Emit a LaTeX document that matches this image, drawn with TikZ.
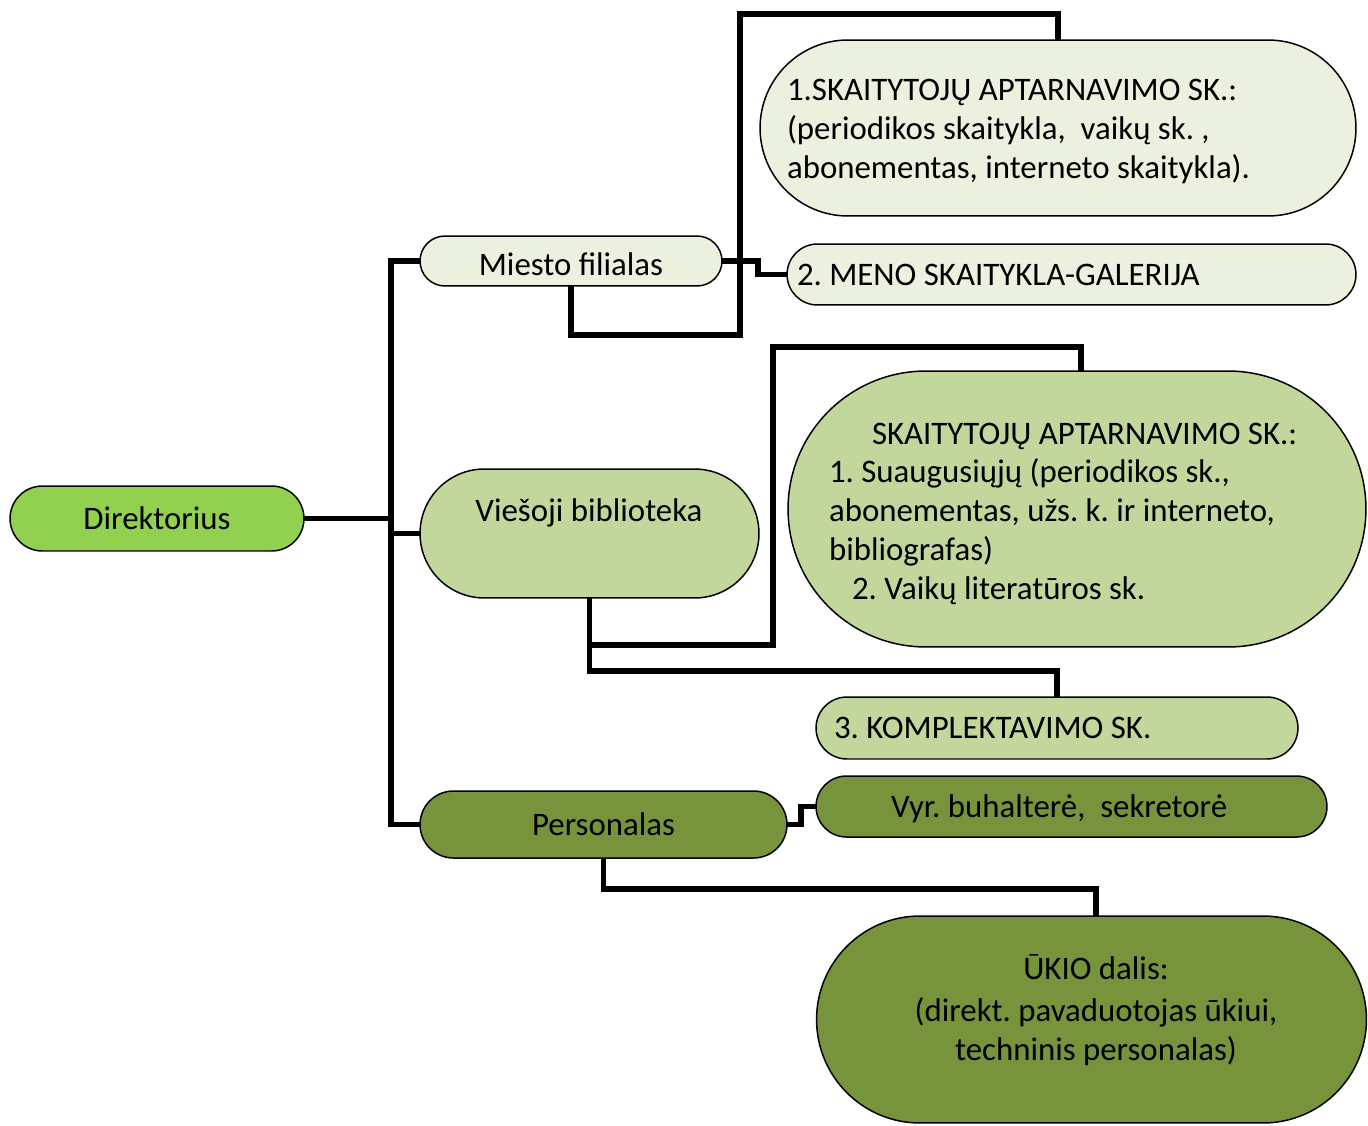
\documentclass[tikz,border=0pt]{standalone}
\usepackage{fontspec}
\setmainfont{Carlito}
\definecolor{cLight}{HTML}{EBF1DE}
\definecolor{cMid}{HTML}{C3D69B}
\definecolor{cDark}{HTML}{77933C}
\definecolor{cBright}{HTML}{92D050}
\newcommand{\dfont}{\fontsize{18.7}{22.1}\selectfont}
\frenchspacing
\begin{document}
\frenchspacing
\begin{tikzpicture}[x=0.02cm,y=-0.02cm,
  box/.style={draw=black, line width=0.85pt, inner sep=0pt, outer sep=0pt, font=\dfont},
  txt/.style={inner sep=0pt, outer sep=0pt, font=\dfont},
  conn/.style={line width=3.1pt, line join=miter}]
\useasboundingbox (0,0) rectangle (1368,1125);

% nodes
\node[box, fill=cBright, minimum width=5.88cm, minimum height=1.30cm, rounded corners=0.649cm] (dir) at (157,518.5) {Direktorius};
\node[box, fill=cLight, minimum width=6.04cm, minimum height=1.00cm, rounded corners=0.499cm] (mf) at (571,261) {};
\node[box, fill=cMid, minimum width=6.78cm, minimum height=2.58cm, rounded corners=1.289cm] (vb) at (589.5,533.5) {};
\node[box, fill=cDark, minimum width=7.34cm, minimum height=1.34cm, rounded corners=0.669cm] (ps) at (603.5,824.5) {Personalas};

\node[box, fill=cLight, minimum width=11.92cm, minimum height=3.52cm, rounded corners=1.759cm] (b1) at (1058,128) {};
\node[box, fill=cLight, minimum width=11.38cm, minimum height=1.22cm, rounded corners=0.609cm] (b2) at (1071.5,274.5) {};
\node[box, fill=cMid, minimum width=11.56cm, minimum height=5.52cm, rounded corners=2.759cm] (b3) at (1077,509) {};
\node[box, fill=cMid, minimum width=9.64cm, minimum height=1.24cm, rounded corners=0.619cm] (b4) at (1057,728) {};
\node[box, fill=cDark, minimum width=10.22cm, minimum height=1.22cm, rounded corners=0.609cm] (b5) at (1071.5,806.5) {};
\node[box, fill=cDark, minimum width=11.0cm, minimum height=4.14cm, rounded corners=2.069cm] (b6) at (1091.5,1019.5) {};

% texts
\node[txt, anchor=base] (tmf) at (571,275) {Miesto filialas};
\node[txt, anchor=base] (tvb) at (589,521) {Viešoji biblioteka};
\node[txt, anchor=base] (tb5) at (1059,817) {Vyr. buhalterė,\ \ sekretorė};
\node[txt, anchor=base west] (tb1) at (787,101) {\begin{tabular}[t]{@{}l@{}}1.SKAITYTOJŲ APTARNAVIMO SK.:\\(periodikos skaitykla,\ \ vaikų sk. ,\\abonementas, interneto skaitykla).\end{tabular}};
\node[txt, anchor=base west] (tb2) at (797,285) {2. MENO SKAITYKLA-GALERIJA};
\node[txt, anchor=base west] (tb3) at (829,444) {\begin{tabular}[t]{@{}l@{}}\hspace*{0.86cm}SKAITYTOJŲ APTARNAVIMO SK.:\\1. Suaugusiųjų (periodikos sk.,\\abonementas, užs. k. ir interneto,\\bibliografas)\\\hspace*{0.46cm}2. Vaikų literatūros sk.\end{tabular}};
\node[txt, anchor=base west] (tb4) at (834,738) {3. KOMPLEKTAVIMO SK.};
\node[txt, anchor=base] (tb6) at (1096,979) {\begin{tabular}[t]{@{}c@{}}ŪKIO dalis:\\[2pt](direkt. pavaduotojas ūkiui,\\techninis personalas)\end{tabular}};

% connectors
\coordinate (bj) at (391,518.5);
\draw[conn] (dir.east) -- (bj);
\draw[conn] (mf.west) -- ++(-29,0) |- (ps.west);
\draw[conn] (vb.west) -- ++(-29,0);
\draw[conn] (mf.east) -- ++(36,0) |- (b2.west);
\draw[conn] (mf.south) -- ++(0,49) -| (740,14) -| (b1.north);
\draw[conn] (vb.south) -- ++(0,47) -| (773,347) -| ([xshift=0.08cm]b3.north);
\draw[conn] (vb.south) -- ++(0,73) -| (b4.north);
\draw[conn] (ps.east) -- ++(14,0) |- (b5.west);
\draw[conn] (ps.south) -- ++(0,31) -| ([xshift=0.09cm]b6.north);
\end{tikzpicture}
\end{document}
